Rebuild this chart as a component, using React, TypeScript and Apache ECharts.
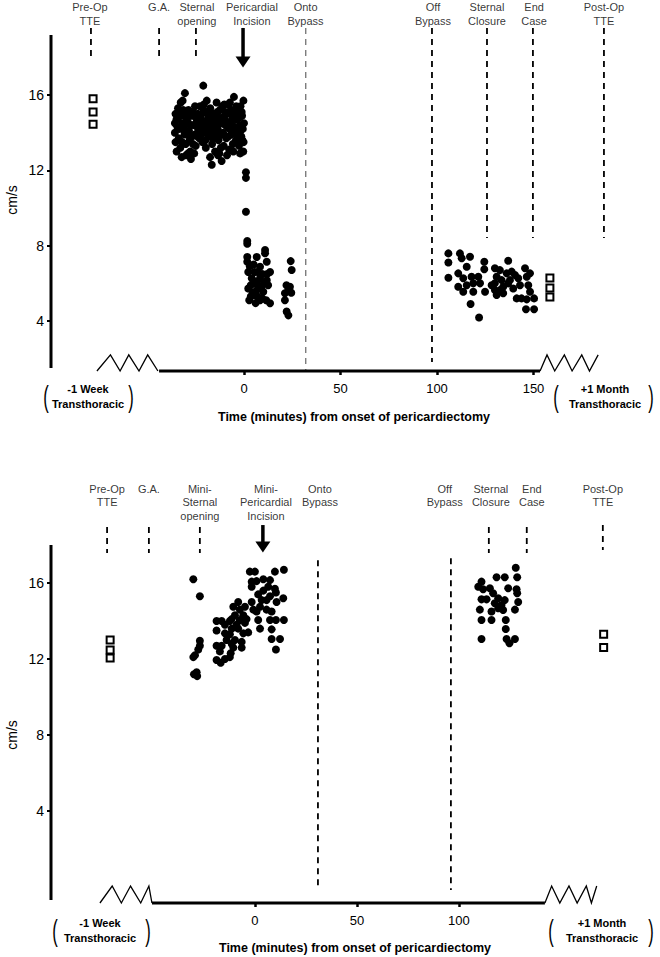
import React, { useEffect, useRef } from "react";
import * as echarts from "echarts";

const FONT = '"Liberation Sans", Arial, Helvetica, sans-serif';

// ================= TOP PANEL DATA =================
const topYTicks = [4, 8, 12, 16];
const topXTicks = [0, 50, 100, 150];
const topEventNames = ["Pre-Op\nTTE", "G.A.", "Sternal\nopening", "Pericardial\nIncision", "Onto\nBypass", "Off\nBypass", "Sternal\nClosure", "End\nCase", "Post-Op\nTTE"];
const topEventTimes = [-79.3, -44, -24.9, -0.5, 32, 97.4, 125.9, 149.7, 186.5];
const topLabelTimes = [-79.8, -44, -24.4, 4.1, 31.9, 97.9, 125.9, 150.3, 186.5];
const topEventFrom = [19.56, 19.56, 19.56, 19.56, 19.56, 19.56, 19.56, 19.56, 19.56];
const topEventTo = [17.86, 17.86, 17.86, 17.75, 1.4, 1.82, 8.41, 8.41, 8.41];
const topPreOpTime = -78.2;
const topPreOpValues = [15.8, 15.1, 14.45];
const topPostOpTime = 158.5;
const topPostOpValues = [6.28, 5.75, 5.27];
const topIntraOp: number[][] = [
  [-35.5, 15.0], [-35.8, 14.5], [-35.8, 14.0], [-35.5, 13.5], [-34.9, 13.0], [-34.2, 15.3], [-34, 14.8], [-33.5, 14.2], [-33.8, 13.7], [-33, 13.2],
  [-32.3, 12.7], [-32.8, 15.6], [-31.8, 15.7], [-31.5, 15.2], [-31.2, 14.9], [-30.6, 16.1], [-30.5, 14.4], [-30.8, 13.9], [-30.2, 13.4], [-30, 12.8],
  [-29.5, 15.0], [-29.2, 14.6], [-28.8, 15.2], [-28.5, 14.1], [-28.2, 13.6], [-27.8, 13.0], [-27.5, 12.6],
  [-26.8, 14.9], [-26.5, 15.1], [-26, 14.4], [-25.4, 15.4], [-25.5, 13.9], [-25, 13.3], [-24.5, 14.7], [-24, 15.0], [-23.8, 14.2], [-23.2, 13.7],
  [-22.8, 15.4], [-22.5, 14.9], [-22, 14.3], [-21.6, 13.5], [-21.1, 16.5], [-21, 15.2], [-20.5, 14.0], [-20.2, 14.6], [-19.8, 13.2], [-19.3, 15.7],
  [-19, 15.0], [-18.6, 14.3], [-18.2, 13.8], [-17.6, 12.7], [-17.5, 15.3], [-17, 14.6], [-16.7, 12.3], [-16.5, 13.4], [-16, 14.1], [-15.6, 15.0],
  [-15.2, 14.4], [-15, 13.0],
  [-14.2, 15.6], [-14, 14.8], [-13.6, 14.2], [-13.2, 13.6], [-12.8, 12.9], [-12.5, 15.2], [-12.2, 14.5], [-11.8, 13.9], [-11.6, 12.5], [-11.2, 15.4],
  [-10.8, 14.0], [-10.5, 13.3], [-10, 14.7], [-9.6, 15.1], [-9.2, 13.7], [-8.8, 12.8], [-8.5, 14.3], [-8, 15.5], [-7.7, 13.1], [-7.3, 15.6],
  [-7, 14.6], [-6.6, 13.9], [-6.2, 14.9], [-5.8, 13.4], [-5.2, 15.9], [-5, 14.2], [-4.6, 15.2], [-4.2, 13.6], [-3.8, 14.7], [-3.4, 14.0],
  [-3, 15.0], [-2.6, 13.3], [-2.2, 14.4], [-1.8, 15.4], [-1.4, 13.8], [-1, 14.9], [-0.6, 14.2], [-0.3, 15.7], [-0.4, 13.0], [0, 14.5], [-0.2, 13.5],
  [-35, 14.7], [-34.5, 14.3], [-33, 15.0], [-32, 14.5], [-32, 13.5], [-31, 14.1], [-29.8, 14.8], [-29, 13.9], [-27.5, 14.4], [-27, 13.8],
  [-26.5, 13.4], [-24.8, 14.5], [-24, 13.8], [-23.5, 14.9], [-22.3, 13.9], [-21.5, 14.6], [-20.8, 15.5], [-20, 13.6], [-19.5, 14.3], [-18.5, 14.8],
  [-17.8, 14.0], [-16.8, 15.0], [-16.2, 13.7], [-15.5, 14.7], [-14.6, 13.9], [-13.8, 15.1], [-13, 14.0], [-12, 13.2], [-11.5, 14.8], [-10.2, 15.5],
  [-9.8, 14.4], [-9, 15.0], [-8.2, 13.8], [-7.5, 14.2], [-6.8, 15.2], [-6, 14.4], [-5.5, 13.0], [-4.8, 14.8], [-4, 15.4], [-3.2, 13.8],
  [-2.4, 14.8], [-1.8, 14.1], [-1.2, 15.1], [-0.8, 13.6], [-2, 12.9], [-13.5, 12.8], [-25.8, 12.9], [-29, 12.9],
  [1.0, 11.9], [1.0, 11.6], [1.0, 9.8],
  [1.7, 8.25], [1.7, 8.1], [1.7, 7.4], [1.7, 7.15], [10.9, 7.77], [10.9, 7.6], [6.6, 7.4], [11.8, 7.15], [8.3, 6.88], [13.5, 6.6],
  [2.2, 6.6], [4.0, 6.27], [8.3, 6.27], [11.8, 6.17], [2.2, 5.73], [6.6, 5.64], [10, 5.55], [2.7, 5.1], [8.3, 5.1], [13.5, 4.94],
  [5.7, 5.38], [4.8, 6.0], [3.0, 6.9], [5.0, 7.0], [7.2, 6.6], [9.5, 6.5], [3.5, 5.9], [6, 6.1], [7.5, 5.9], [9, 5.8],
  [10.5, 6.0], [12.5, 5.9], [4.5, 5.5], [7, 5.3], [9.5, 5.2], [11.5, 5.1], [3.5, 5.3], [6, 4.95], [12, 6.5], [5.5, 6.6],
  [24.2, 7.18], [24.7, 6.71], [23, 5.64], [21.2, 5.47], [21.2, 5.1], [22.1, 4.5], [23, 4.3], [23.8, 5.82], [24.5, 5.5], [22, 5.9],
  [105.9, 7.59], [105.9, 7.11], [105.9, 6.3], [111.9, 7.59], [112.8, 7.33], [117.1, 7.41], [115.4, 6.88], [111, 6.53], [113.6, 6.27], [117.9, 6.35],
  [121.4, 6.35], [111, 5.82], [115.4, 5.9], [118.8, 6.0], [122.3, 6.0], [113.6, 5.55], [118.8, 5.55], [124.9, 5.55], [124.5, 7.15], [124.5, 6.75],
  [117.4, 4.9], [121.8, 4.19], [130, 6.8], [130.9, 6.35], [130, 6.0], [130, 5.64], [132.6, 6.7], [133.5, 6.17], [132.6, 5.64], [134.3, 5.82],
  [136.9, 7.2], [136.1, 6.53], [138.7, 6.62], [140.4, 6.44], [139.5, 5.73], [136.9, 6.0], [137.8, 6.17], [142.1, 6.27], [143, 5.9], [145.6, 6.8],
  [146.5, 6.35], [148.2, 6.53], [147.3, 5.9], [148.2, 5.55], [141.3, 5.2], [143.8, 5.2], [146.5, 5.15], [150.3, 5.2], [146.1, 4.62], [150.3, 4.62],
  [130.9, 5.38], [134.3, 5.47], [128.3, 5.9],
];
const topYAxisSpan = [1.5, 19.19];
const topXAxisSpan = [-44, 153.4];
const topZigLeft: number[][] = [[-76.2, 1.345], [-69.2, 2.2], [-64.2, 1.345], [-59.7, 2.2], [-54.4, 1.345], [-49.9, 2.2], [-44.6, 1.345]];
const topZigRight: number[][] = [[153.4, 1.345], [157, 2.2], [161, 1.345], [166, 2.2], [170, 1.345], [175, 2.2], [179, 1.345], [183.5, 2.2]];

// ================= BOTTOM PANEL DATA =================
const botYTicks = [4, 8, 12, 16];
const botXTicks = [0, 50, 100];
const botEventNames = ["Pre-Op\nTTE", "G.A.", "Mini-\nSternal\nopening", "Mini-\nPericardial\nIncision", "Onto\nBypass", "Off\nBypass", "Sternal\nClosure", "End\nCase", "Post-Op\nTTE"];
const botEventTimes = [-72.5, -52, -27, 3.9, 30.9, 96.1, 114.7, 133.3, 170.6];
const botLabelTimes = [-72.5, -52, -27, 5.4, 31.9, 93.1, 115.7, 135.8, 170.6];
const botEventFrom = [18.95, 18.95, 18.95, 19.05, 17.2, 17.3, 18.95, 18.95, 19.05];
const botEventTo = [17.58, 17.58, 17.58, 17.9, -0.16, -0.16, 17.58, 17.58, 17.74];
const botPreOpTime = -71;
const botPreOpValues = [13.0, 12.47, 12.05];
const botPostOpTime = 171;
const botPostOpValues = [13.3, 12.6];
const botIntraOp: number[][] = [
  [-30.2, 16.2], [-27.0, 15.3], [-27.0, 12.96], [-27.0, 12.7], [-27.8, 12.5], [-29.4, 12.2], [-30.2, 12.1], [-28.6, 11.3], [-29.9, 11.2], [-28.3, 11.1],
  [-18.8, 14.0], [-16.3, 14.0], [-18.8, 13.5], [-18.8, 12.7], [-16.3, 12.7], [-18.8, 11.95], [-16.8, 11.8], [-12.3, 12.1], [-11.9, 12.3], [-12.3, 14.0],
  [-11.4, 13.6], [-12.3, 13.3], [-9.8, 13.0], [-6.5, 12.9], [-6.5, 12.6], [-10.6, 14.75], [-8.2, 15.0], [-7.4, 14.6], [-4.9, 14.75], [-4.1, 14.1],
  [-7.4, 14.05], [-9.0, 13.8], [-8.2, 13.6], [-3.3, 13.4], [-1.6, 15.0], [-0.8, 14.6], [-2.5, 16.6], [0, 16.6], [-1.6, 16.07], [0.8, 16.1],
  [4.1, 16.2], [7.4, 16.15], [9.8, 16.6], [14.2, 16.7], [-1.6, 15.8], [1.6, 15.4], [4.1, 15.6], [6.5, 15.8], [9.8, 15.7], [10.3, 15.5],
  [7.4, 15.3], [3.3, 15.1], [5.7, 15.1], [13.9, 15.2], [2.5, 14.75], [5.7, 14.6], [10.6, 15.0], [8.2, 14.5], [0.8, 14.5], [1.6, 14.05],
  [2.5, 13.6], [7.4, 14.05], [10.3, 14.05], [14.2, 14.05], [8.2, 13.56], [8.2, 13.05], [12.3, 13.05], [10.3, 12.5], [-11.4, 14.1], [-9.8, 14.3],
  [-5.7, 14.3], [-4.9, 13.9], [-5.7, 13.35], [-14.7, 13.8], [-14.7, 13.35], [-13.9, 13.0], [-11.4, 12.8], [-10.6, 12.6], [-17.2, 12.4], [-14.7, 12.0],
  [127.9, 16.8], [118.5, 16.3], [122.5, 16.3], [128.6, 16.3], [111.1, 16.07], [109.5, 15.8], [111.9, 15.67], [115.2, 15.72], [116.8, 15.46], [124.2, 15.72],
  [128.3, 15.67], [128.6, 15.46], [111.1, 15.14], [119.3, 15.2], [122.5, 15.1], [129.1, 15.0], [120.9, 14.84], [119.3, 14.67], [110.3, 14.6], [116.0, 14.5],
  [121.7, 14.58], [127.5, 14.6], [111.1, 14.05], [116.0, 14.05], [123.0, 14.05], [123.0, 13.58], [111.1, 13.05], [123.4, 13.05], [127.5, 13.05], [124.8, 12.83],
  [113.6, 15.14], [117.6, 14.93],
];
const botYAxisSpan = [-0.68, 18.0];
const botXAxisSpan = [-50.5, 142.2];
const botZigLeft: number[][] = [[-76, -0.842], [-70, 0.05], [-65.5, -0.842], [-61, 0.05], [-56, -0.842], [-52, 0.05], [-50.5, -0.842]];
const botZigRight: number[][] = [[142.2, -0.842], [145.5, 0.05], [149.5, -0.842], [154, 0.05], [158, -0.842], [162.5, 0.05], [165, -0.842], [167.6, 0.05]];

interface Panel {
  xMin: number; xMax: number; yMin: number; yMax: number;
  xTicks: number[]; yTicks: number[];
  names: string[]; times: number[]; labelTimes: number[]; from: number[]; to: number[];
  arrowIndex: number; greyIndex: number; labelTop: number;
  preT: number; preV: number[]; postT: number; postV: number[];
  points: number[][]; yAxisSpan: number[]; xAxisSpan: number[];
  zigL: number[][]; zigR: number[][];
}

const panels: Panel[] = [
  {
    xMin: -100, xMax: 200, yMin: 1.345, yMax: 21.045, xTicks: topXTicks, yTicks: topYTicks,
    names: topEventNames, times: topEventTimes, labelTimes: topLabelTimes, from: topEventFrom, to: topEventTo,
    arrowIndex: 3, greyIndex: 4, labelTop: 21.04,
    preT: topPreOpTime, preV: topPreOpValues, postT: topPostOpTime, postV: topPostOpValues,
    points: topIntraOp, yAxisSpan: topYAxisSpan, xAxisSpan: topXAxisSpan, zigL: topZigLeft, zigR: topZigRight,
  },
  {
    xMin: -100, xMax: 180, yMin: -0.842, yMax: 21.947, xTicks: botXTicks, yTicks: botYTicks,
    names: botEventNames, times: botEventTimes, labelTimes: botLabelTimes, from: botEventFrom, to: botEventTo,
    arrowIndex: 3, greyIndex: -1, labelTop: 21.34,
    preT: botPreOpTime, preV: botPreOpValues, postT: botPostOpTime, postV: botPostOpValues,
    points: botIntraOp, yAxisSpan: botYAxisSpan, xAxisSpan: botXAxisSpan, zigL: botZigLeft, zigR: botZigRight,
  },
];

function buildSeries(i: number, p: Panel): any[] {
  const ax = { xAxisIndex: i, yAxisIndex: i };
  const s: any[] = [];
  p.times.forEach((t, k) => {
    const isArrow = k === p.arrowIndex;
    s.push({
      type: "line", ...ax, clip: false, silent: true, symbol: "none", z: 2,
      data: [[t, p.from[k]], [t, p.to[k]]],
      lineStyle: isArrow
        ? { color: "#000", width: 3.5, type: "solid" }
        : { color: k === p.greyIndex ? "#666" : "#000", width: k === p.greyIndex ? 1.2 : 1.8, type: [6, 5], cap: "butt" },
    });
  });
  s.push({
    type: "scatter", ...ax, clip: false, silent: true, z: 3,
    data: [[p.times[p.arrowIndex], p.to[p.arrowIndex]]],
    symbol: "triangle", symbolRotate: 180, symbolSize: [15, 11], itemStyle: { color: "#000", opacity: 1 },
  });
  s.push({
    type: "scatter", ...ax, clip: false, silent: true, z: 4,
    symbolSize: 1, itemStyle: { color: "rgba(0,0,0,0)" },
    data: p.labelTimes.map((t, k) => ({ value: [t, p.labelTop], label: { formatter: p.names[k] } })),
    label: { show: true, position: "bottom", distance: 0, color: "#000", fontSize: 11, lineHeight: 13.5, fontFamily: FONT, align: "center" },
  });
  s.push({
    type: "scatter", ...ax, clip: false, silent: true, z: 5,
    data: p.points, symbol: "circle", symbolSize: 8, itemStyle: { color: "#000", opacity: 1 },
  });
  s.push({
    type: "scatter", ...ax, clip: false, silent: true, z: 5,
    data: p.preV.map((v) => [p.preT, v]).concat(p.postV.map((v) => [p.postT, v])),
    symbol: "rect", symbolSize: 7, itemStyle: { color: "#fff", borderColor: "#000", borderWidth: 2, opacity: 1 },
  });
  s.push({
    type: "line", ...ax, clip: false, silent: true, symbol: "none", z: 6,
    data: [[p.xMin, p.yAxisSpan[0]], [p.xMin, p.yAxisSpan[1]]],
    lineStyle: { color: "#000", width: 3 },
  });
  s.push({
    type: "line", ...ax, clip: false, silent: true, symbol: "none", z: 6,
    data: [[p.xAxisSpan[0], p.yMin], [p.xAxisSpan[1], p.yMin]],
    lineStyle: { color: "#000", width: 3 },
  });
  [p.zigL, p.zigR].forEach((z) => {
    s.push({
      type: "line", ...ax, clip: false, silent: true, symbol: "none", z: 6,
      data: z, lineStyle: { color: "#000", width: 1.3, join: "miter" },
    });
  });
  return s;
}

function transLabel(cx: number, y: number, first: string, lp: number, rp: number): any[] {
  return [
    { type: "text", x: cx, y: y, style: { text: first + "\nTransthoracic", fontSize: 11, fontWeight: "bold", lineHeight: 15, fill: "#000", align: "center", verticalAlign: "top", fontFamily: FONT } },
    { type: "text", x: lp, y: y + 15, scaleX: 0.55, style: { text: "(", fontSize: 30, fill: "#000", align: "center", verticalAlign: "middle", fontFamily: FONT } },
    { type: "text", x: rp, y: y + 15, scaleX: 0.55, style: { text: ")", fontSize: 30, fill: "#000", align: "center", verticalAlign: "middle", fontFamily: FONT } },
  ];
}

export default function App() {
  const ref = useRef<HTMLDivElement>(null);
  useEffect(() => {
    if (!ref.current) return;
    const chart = echarts.init(ref.current, undefined, { renderer: "svg" });
    const grids = [
      { left: 51, width: 579, top: 0, height: 371 },
      { left: 51, width: 571, top: 470, height: 433 },
    ];
    const xAxes = panels.map((p, i) => ({
      type: "value", gridIndex: i, min: p.xMin, max: p.xMax,
      axisLine: { show: false, onZero: false }, splitLine: { show: false },
      axisTick: { show: true, customValues: p.xTicks, length: 4, lineStyle: { color: "#000", width: 2.5 } },
      axisLabel: { show: true, customValues: p.xTicks, color: "#000", fontSize: 13, margin: 11, fontFamily: FONT },
    }));
    const yAxes = panels.map((p, i) => ({
      type: "value", gridIndex: i, min: p.yMin, max: p.yMax,
      axisLine: { show: false, onZero: false }, splitLine: { show: false },
      axisTick: { show: true, customValues: p.yTicks, length: 4, lineStyle: { color: "#000", width: 2 } },
      axisLabel: { show: true, customValues: p.yTicks, color: "#000", fontSize: 14, margin: 7, fontFamily: FONT },
    }));
    let series: any[] = [];
    panels.forEach((p, i) => { series = series.concat(buildSeries(i, p)); });
    const graphic: any[] = [
      { type: "text", x: 12, y: 200, rotation: Math.PI / 2, style: { text: "cm/s", fontSize: 14, fill: "#000", align: "center", verticalAlign: "middle", fontFamily: FONT } },
      { type: "text", x: 12, y: 735, rotation: Math.PI / 2, style: { text: "cm/s", fontSize: 14, fill: "#000", align: "center", verticalAlign: "middle", fontFamily: FONT } },
      { type: "text", x: 354, y: 417, style: { text: "Time (minutes) from onset of pericardiectomy", fontSize: 12.5, fontWeight: "bold", fill: "#000", align: "center", verticalAlign: "middle", fontFamily: FONT } },
      { type: "text", x: 355, y: 948, style: { text: "Time (minutes) from onset of pericardiectomy", fontSize: 12.5, fontWeight: "bold", fill: "#000", align: "center", verticalAlign: "middle", fontFamily: FONT } },
      ...transLabel(88, 381, "-1 Week", 46, 131),
      ...transLabel(605, 381, "+1 Month", 556, 651),
      ...transLabel(100, 915, "-1 Week", 55, 148),
      ...transLabel(602, 915, "+1 Month", 551, 651),
    ];
    chart.setOption({
      animation: false,
      backgroundColor: "#fff",
      grid: grids,
      xAxis: xAxes,
      yAxis: yAxes,
      series,
      graphic,
    });
    return () => chart.dispose();
  }, []);
  return <div ref={ref} style={{ width: 660, height: 957, position: "absolute", left: 0, top: 0 }} />;
}
